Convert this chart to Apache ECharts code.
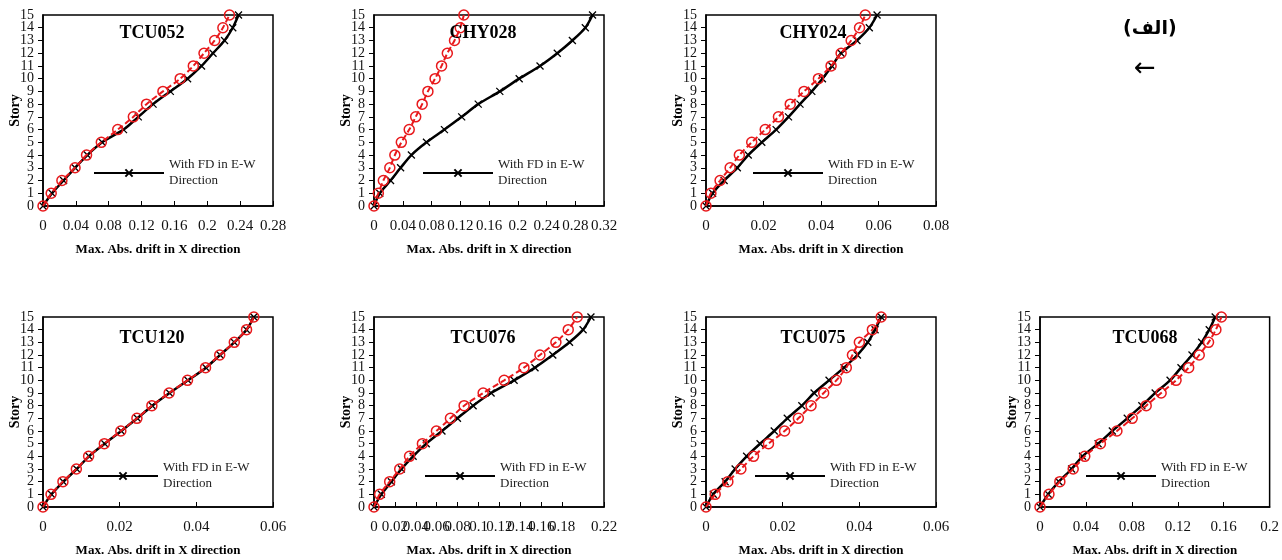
<!DOCTYPE html>
<html>
<head>
<meta charset="utf-8">
<script src="https://cdn.jsdelivr.net/npm/echarts@6/dist/echarts.min.js"></script>
<style>
html,body{margin:0;padding:0;background:#fff;}
#chart{width:1282px;height:560px;}
</style>
</head>
<body>
<div id="chart"></div>
<script>
// ---------- DATA ----------
const stories = [0,1,2,3,4,5,6,7,8,9,10,11,12,13,14,15];
const yTicks = {min: 0, max: 15, interval: 1};

const stationNames = ['TCU052','CHY028','CHY024','TCU120','TCU076','TCU075','TCU068'];
const xMax      = [0.28, 0.32, 0.08, 0.06, 0.22, 0.06, 0.2];
const xInterval = [0.04, 0.04, 0.02, 0.02, 0.02, 0.02, 0.04];

// Black (with FD in E-W direction)
const tcu052WithFD = [0,0.011,0.025,0.039,0.054,0.072,0.098,0.116,0.134,0.155,0.176,0.193,0.207,0.221,0.231,0.238];
const chy028WithFD = [0,0.008,0.023,0.037,0.052,0.073,0.098,0.122,0.145,0.175,0.202,0.231,0.255,0.276,0.294,0.304];
const chy024WithFD = [0,0.0023,0.0063,0.0109,0.0147,0.0194,0.0244,0.0287,0.0327,0.0368,0.0405,0.0438,0.047,0.0525,0.0568,0.0595];
const tcu120WithFD = [0,0.0022,0.0053,0.0088,0.0120,0.0161,0.0204,0.0246,0.0285,0.0330,0.0378,0.0425,0.0462,0.0499,0.0531,0.0550];
const tcu076WithFD = [0,0.007,0.0166,0.0262,0.0374,0.050,0.065,0.0798,0.0948,0.112,0.134,0.154,0.171,0.187,0.200,0.2075];
const tcu075WithFD = [0,0.0019,0.005,0.0076,0.0106,0.0141,0.0178,0.0212,0.025,0.0282,0.0321,0.036,0.0395,0.0422,0.0441,0.0457];
const tcu068WithFD = [0,0.0072,0.0165,0.0275,0.037,0.0506,0.063,0.076,0.0887,0.1003,0.1133,0.1228,0.1324,0.1408,0.1474,0.1526];

// Red (without FD)
const tcu052NoFD = [0,0.010,0.023,0.039,0.053,0.071,0.091,0.110,0.126,0.146,0.167,0.183,0.196,0.209,0.219,0.227];
const chy028NoFD = [0,0.006,0.013,0.022,0.029,0.038,0.049,0.058,0.067,0.075,0.085,0.094,0.102,0.112,0.120,0.125];
const chy024NoFD = [0,0.0017,0.0049,0.0084,0.0116,0.0159,0.0206,0.0252,0.0293,0.0341,0.0391,0.0435,0.047,0.0505,0.0534,0.0554];
const tcu120NoFD = [0,0.0021,0.0052,0.0087,0.0119,0.0160,0.0203,0.0245,0.0284,0.0329,0.0377,0.0424,0.0461,0.0499,0.0531,0.0550];
const tcu076NoFD = [0,0.0054,0.015,0.0246,0.034,0.0463,0.0597,0.0731,0.0862,0.1044,0.1245,0.1434,0.1587,0.174,0.1858,0.1944];
const tcu075NoFD = [0,0.0024,0.0057,0.0091,0.0124,0.0163,0.0205,0.0241,0.0274,0.0307,0.034,0.0366,0.0382,0.04,0.0434,0.0457];
const tcu068NoFD = [0,0.0078,0.0173,0.0289,0.039,0.0526,0.067,0.0803,0.0925,0.1055,0.1185,0.1295,0.1387,0.1468,0.1532,0.158];

const withFD = [tcu052WithFD, chy028WithFD, chy024WithFD, tcu120WithFD, tcu076WithFD, tcu075WithFD, tcu068WithFD];
const noFD   = [tcu052NoFD, chy028NoFD, chy024NoFD, tcu120NoFD, tcu076NoFD, tcu075NoFD, tcu068NoFD];

const legendName = 'With FD in E-W';
const legendLine2 = 'Direction';
const xAxisName = 'Max. Abs. drift in X direction';
const yAxisName = 'Story';
const cornerLabel = '(الف)';
const cornerArrow = '←';

// ---------- LAYOUT ----------
const grids = [
  {left: 43,  top: 15,  width: 230, height: 191},
  {left: 374, top: 15,  width: 230, height: 191},
  {left: 706, top: 15,  width: 230, height: 191},
  {left: 43,  top: 317, width: 230, height: 190},
  {left: 374, top: 317, width: 230, height: 190},
  {left: 706, top: 317, width: 230, height: 190},
  {left: 1040,top: 317, width: 231, height: 190}
];
const legendOffset = [50, 48, 46, 44, 50, 48, 45];
const titleCenterX = [152, 483, 813, 152, 483, 813, 1145];

const serif = 'Liberation Serif, Times New Roman, serif';
const crossPath = 'path://M0,0L10,10M10,0L0,10';
const yLabelStyle = {fontFamily: serif, fontSize: 14, color: '#111', margin: 9, hideOverlap: false};

const option = {
  backgroundColor: '#fff',
  animation: false,
  grid: [], xAxis: [], yAxis: [], series: [], legend: [], title: [],
  graphic: [
    {type: 'text', left: 1123, top: 20, style: {text: cornerLabel, font: 'bold 19px "DejaVu Sans"', fill: '#000'}},
    {type: 'text', left: 1134, top: 56, style: {text: cornerArrow, font: '26px "DejaVu Sans"', fill: '#000'}}
  ]
};

grids.forEach((g, i) => {
  option.grid.push(Object.assign({show: true, borderColor: '#000', borderWidth: 1.5, backgroundColor: 'transparent', containLabel: false}, g));
  option.xAxis.push({
    type: 'value', gridIndex: i, min: 0, max: xMax[i], interval: xInterval[i],
    name: xAxisName, nameLocation: 'middle', nameGap: 37,
    nameTextStyle: {fontFamily: serif, fontWeight: 'bold', fontSize: 13, color: '#000'},
    axisLine: {show: true, lineStyle: {color: '#000', width: 1.5}},
    axisTick: {show: true, inside: true, length: 5, lineStyle: {color: '#000'}},
    axisLabel: {fontFamily: serif, fontSize: 15, color: '#111', margin: 13, hideOverlap: false, showMinLabel: true, showMaxLabel: true},
    splitLine: {show: false}
  });
  // main story axis (labels 1..14; ends shown by the companion axis)
  option.yAxis.push({
    type: 'value', gridIndex: i, min: yTicks.min, max: yTicks.max, interval: yTicks.interval,
    name: yAxisName, nameLocation: 'middle', nameGap: 21, nameMoveOverlap: false,
    nameTextStyle: {fontFamily: serif, fontWeight: 'bold', fontSize: 14, color: '#000'},
    axisLine: {show: true, lineStyle: {color: '#000', width: 1.5}},
    axisTick: {show: true, inside: false, length: 5, lineStyle: {color: '#000'}},
    axisLabel: Object.assign({showMinLabel: false, showMaxLabel: false}, yLabelStyle),
    splitLine: {show: false}
  });
  // companion axis showing the end labels 0 and 15
  option.yAxis.push({
    type: 'value', gridIndex: i, position: 'left', min: yTicks.min, max: yTicks.max, interval: yTicks.max - yTicks.min,
    axisLine: {show: false}, axisTick: {show: false}, splitLine: {show: false},
    axisLabel: Object.assign({showMinLabel: true, showMaxLabel: true}, yLabelStyle)
  });
  option.series.push({
    name: legendName, type: 'line', xAxisIndex: i, yAxisIndex: 2 * i,
    data: withFD[i].map((v, k) => [v, stories[k]]),
    smooth: 0.3, symbol: crossPath, symbolSize: 7,
    lineStyle: {color: '#000', width: 2.5},
    itemStyle: {color: '#000', borderColor: '#000', borderWidth: 1.3},
    z: 2
  });
  option.series.push({
    name: 'Without FD', type: 'line', xAxisIndex: i, yAxisIndex: 2 * i,
    data: noFD[i].map((v, k) => [v, stories[k]]),
    smooth: 0.3, symbol: 'circle', symbolSize: 10,
    lineStyle: {color: '#e8191c', width: 2, type: [6, 3]},
    itemStyle: {color: 'rgba(255,255,255,0)', borderColor: '#e8191c', borderWidth: 1.5},
    z: 3
  });
  const iconY = g.top < 100 ? 173 : 476;
  option.legend.push({
    data: [legendName], left: g.left + legendOffset[i], top: iconY - 24, padding: 0,
    itemWidth: 70, itemHeight: 9, selectedMode: false,
    formatter: (n) => n + '\n' + legendLine2,
    textStyle: {fontFamily: serif, fontSize: 13, color: '#222', lineHeight: 16, padding: [16, 0, 0, 0]}
  });
  option.title.push({
    text: stationNames[i], left: titleCenterX[i], top: g.top < 100 ? 24 : 329, padding: 0,
    textAlign: 'center',
    textStyle: {fontFamily: serif, fontWeight: 'bold', fontSize: 18, color: '#000'}
  });
});

const chart = echarts.init(document.getElementById('chart'), null, {renderer: 'canvas'});
chart.setOption(option);
</script>
</body>
</html>
